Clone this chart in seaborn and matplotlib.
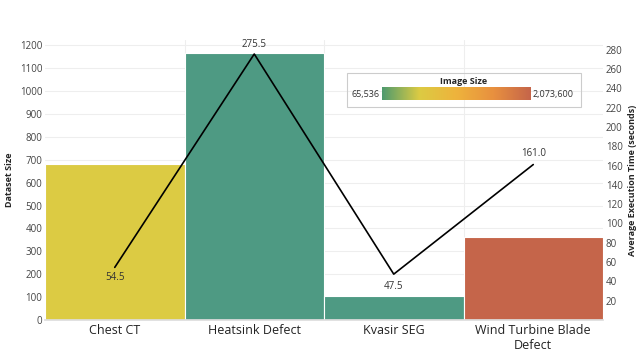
import matplotlib
matplotlib.use('Agg')
import matplotlib.pyplot as plt
import seaborn as sns
import numpy as np
import pandas as pd
from matplotlib.colors import LinearSegmentedColormap
from matplotlib.patches import Rectangle

# values
datasets = ['Chest CT', 'Heatsink Defect', 'Kvasir SEG', 'Wind Turbine Blade\nDefect']
dataset_size = [680, 1165, 107, 365]
exec_time = [54.5, 275.5, 47.5, 161.0]
bar_colors = ['#dccb43', '#4e9a83', '#4e9a83', '#c5654a']
left_ticks = list(range(0, 1201, 100))
right_ticks = list(range(20, 281, 20))

sns.set_theme(style='white')
plt.rcParams['font.family'] = ['Open Sans', 'DejaVu Sans']

df = pd.DataFrame({'Dataset': datasets, 'Size': dataset_size, 'Time': exec_time})

fig = plt.figure(figsize=(6.4, 3.6), dpi=100)
ax = fig.add_axes([45 / 640, 1 - 320 / 360, 558 / 640, 280 / 360])

sns.barplot(data=df, x='Dataset', y='Size', hue='Dataset', palette=bar_colors, saturation=1,
            width=1.0, edgecolor='white', linewidth=0.8, legend=False, ax=ax, zorder=2)
ax.set_xlim(-0.5, 3.5)
ax.set_ylim(0, 1224)
ax.set_yticks(left_ticks)
ax.tick_params(axis='y', labelsize=7, colors='#444444', pad=2, length=0)
ax.tick_params(axis='x', labelsize=9, colors='#222222', pad=3, length=0)
ax.set_xlabel('')
ax.set_ylabel('Dataset Size', fontsize=6.5, fontweight='bold', labelpad=4)
for t in left_ticks:
    ax.axhline(t, color='#eeeeee', lw=0.8, zorder=0)
for xb in [0.5, 1.5, 2.5]:
    ax.axvline(xb, color='#eeeeee', lw=0.8, zorder=0)
for s in ['top', 'right', 'left']:
    ax.spines[s].set_visible(False)
ax.spines['bottom'].set_color('#dddddd')

ax2 = ax.twinx()
sns.lineplot(x=np.arange(len(exec_time)), y=exec_time, color='black', lw=1.2, ax=ax2)
ax2.set_ylim(0, 290)
ax2.set_yticks(right_ticks)
ax2.tick_params(axis='y', labelsize=7, colors='#444444', pad=2, length=0)
ax2.set_ylabel('Average Execution Time (seconds)', fontsize=6.5, fontweight='bold', labelpad=4)
for s in ax2.spines.values():
    s.set_visible(False)

offsets = [-7, 7, -9, 8]
for i, v in enumerate(exec_time):
    ax2.annotate(f'{v:.1f}', (i, v), textcoords='offset points', xytext=(0, offsets[i]),
                 ha='center', va='center', fontsize=7, color='#333333')

# colour legend
cmap = LinearSegmentedColormap.from_list('img', ['#4e9a6e', '#dccb43', '#eeb33c', '#e8903f', '#c5654a'])
fig.patches.append(Rectangle((347 / 640, 1 - 107 / 360), 234 / 640, 34 / 360,
                             transform=fig.transFigure, fill=False, edgecolor='#cccccc', lw=0.8))
cax = fig.add_axes([382 / 640, 1 - 100 / 360, 149 / 640, 13 / 360])
cax.imshow(np.linspace(0, 1, 256)[None, :], aspect='auto', cmap=cmap)
cax.axis('off')
fig.text(464 / 640, 1 - 81 / 360, 'Image Size', ha='center', va='center', fontsize=6.5, fontweight='bold')
fig.text(380 / 640, 1 - 94 / 360, '65,536', ha='right', va='center', fontsize=6.5, color='#333333')
fig.text(533 / 640, 1 - 94 / 360, '2,073,600', ha='left', va='center', fontsize=6.5, color='#333333')

fig.savefig('out.png', dpi=100, facecolor='white')
